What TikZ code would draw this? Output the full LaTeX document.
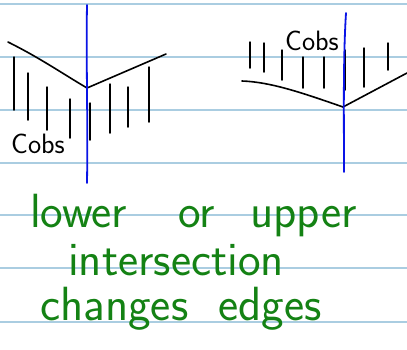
\documentclass[tikz,border=0pt]{standalone}
\usetikzlibrary{calc}
\definecolor{rule}{RGB}{170,205,225}
\definecolor{pen}{RGB}{0,0,0}
\definecolor{bluepen}{RGB}{10,20,230}
\definecolor{greenpen}{RGB}{20,130,20}
\tikzset{
  ruleline/.style={rule, line width=1.3pt},
  inkline/.style={pen, line width=1.6pt, line cap=round, line join=round},
  blueline/.style={bluepen, line width=1.8pt, line cap=round},
  hatch/.style={pen, line width=1.5pt, line cap=round},
  cobs/.style={pen, font=\sffamily\fontsize{28}{28}\selectfont, inner sep=0pt, anchor=base west},
  note/.style={greenpen, font=\sffamily\fontsize{48}{48}\selectfont, inner sep=0pt, anchor=base west}
}
\begin{document}
\begin{tikzpicture}[x=1pt,y=-1pt]
\useasboundingbox (0,0) rectangle (407,349);
\fill[white] (0,0) rectangle (407,349);
% ruled lines
\foreach \y in {4,57,110,163,215,268,322}
  \draw[ruleline] (0,\y) -- (407,\y);
% left sketch
\coordinate (L1) at (8,42);
\coordinate (LV) at (87,88);
\coordinate (L2) at (166,54);
\draw[inkline] (L1) .. controls (40,58) and (60,72) .. (LV) -- (L2);
\foreach \x/\a/\b in {14/57/110, 28/73/120, 47/87/130, 70/99/138, 90/103/140, 110/84/133, 128/87/127, 149/67/122}
  \draw[hatch] (\x,\a) -- (\x,\b);
\draw[blueline] (87,5) .. controls (86,60) and (88,120) .. (87,183);
\node[cobs] (cl) at (11,153) {Cobs};
% right sketch
\coordinate (R1) at (242,81);
\coordinate (RV) at (343,107);
\coordinate (R2) at (407,73);
\draw[inkline] (R1) .. controls (270,82) and (300,92) .. (RV) -- (R2);
\foreach \x/\a/\b in {250/42/68, 264/43/72, 282/50/80, 303/57/88, 324/57/88, 345/50/90, 364/48/87, 388/43/70}
  \draw[hatch] (\x,\a) -- (\x,\b);
\draw[blueline] (346,13) .. controls (343,60) and (344,120) .. (344,172);
\node[cobs] (cr) at (285,50) {Cobs};
% notes
\node[note] (w1) at (30,227) {lower};
\node[note] (w2) at (178,227) {or};
\node[note] (w3) at (250,227) {upper};
\node[note] (w4) at (68,275) {intersection};
\node[note] (w5) at (40,320) {changes};
\node[note] (w6) at (218,320) {edges};
\end{tikzpicture}
\end{document}
